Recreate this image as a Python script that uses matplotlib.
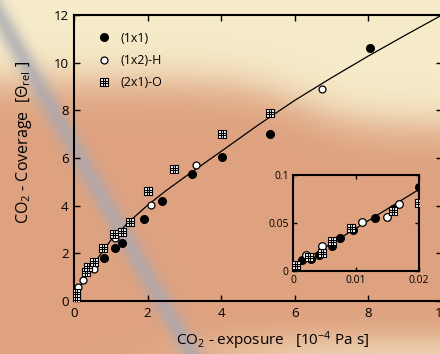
import numpy as np
import matplotlib
matplotlib.use("Agg")
import matplotlib.pyplot as plt
from matplotlib.path import Path

plt.rcParams['font.family'] = ['Open Sans', 'DejaVu Sans']
plt.rcParams['mathtext.fontset'] = 'custom'
plt.rcParams['mathtext.rm'] = 'Open Sans'
plt.rcParams['mathtext.it'] = 'Open Sans:italic'
plt.rcParams['mathtext.bf'] = 'Open Sans:bold'

# main plot data (exposure in 1e-4 Pa s, relative coverage)
x_1x1 = [0.02, 0.81, 1.11, 1.31, 1.91, 2.40, 3.21, 4.03, 5.33, 8.04]
y_1x1 = [0.08, 1.80, 2.22, 2.43, 3.43, 4.20, 5.31, 6.04, 7.02, 10.6]

x_1x2h = [0.03, 0.12, 0.25, 0.54, 1.11, 2.10, 3.31, 6.73]
y_1x2h = [0.20, 0.57, 0.87, 1.36, 2.63, 4.01, 5.71, 8.91]

x_2x1o = [0.05, 0.05, 0.06, 0.32, 0.39, 0.54, 0.80, 1.10, 1.30, 1.51, 2.01, 2.71, 4.03, 5.33]
y_2x1o = [0.12, 0.22, 0.32, 1.23, 1.41, 1.62, 2.21, 2.80, 2.90, 3.30, 4.60, 5.53, 7.00, 7.90]

# guide curve
x_fit = [0, 0.1, 0.3, 0.6, 1.0, 1.5, 2.0, 2.5, 3.0, 4.0, 5.0, 6.0, 7.0, 8.0, 9.0, 10.0]
y_fit = [0, 0.38, 1.00, 1.70, 2.55, 3.33, 4.02, 4.63, 5.19, 6.28, 7.38, 8.42, 9.37, 10.28, 11.15, 12.0]

# inset data (low exposure)
xi_1x1 = [0.00138, 0.00286, 0.00418, 0.00614, 0.00741, 0.00958, 0.0130, 0.0159, 0.0200]
yi_1x1 = [0.0115, 0.0128, 0.0163, 0.026, 0.0344, 0.0427, 0.0549, 0.0646, 0.0878]
xi_1x2h = [0.00201, 0.00466, 0.0109, 0.01487, 0.01688]
yi_1x2h = [0.017, 0.026, 0.051, 0.0566, 0.0701]
xi_2x1o = [0.00042, 0.00254, 0.00466, 0.00624, 0.0092, 0.0159, 0.0200]
yi_2x1o = [0.0059, 0.0149, 0.0184, 0.031, 0.0451, 0.0628, 0.0712]
xi_fit = [0, 0.02]
yi_fit = [0.004, 0.085]

# square marker with a grid inside
verts = [(-1, -1), (1, -1), (1, 1), (-1, 1), (-1, -1),
         (-1/3, -1), (-1/3, 1), (1/3, -1), (1/3, 1),
         (-1, -1/3), (1, -1/3), (-1, 1/3), (1, 1/3)]
codes = [Path.MOVETO, Path.LINETO, Path.LINETO, Path.LINETO, Path.CLOSEPOLY,
         Path.MOVETO, Path.LINETO, Path.MOVETO, Path.LINETO,
         Path.MOVETO, Path.LINETO, Path.MOVETO, Path.LINETO]
grid_sq = Path(verts, codes)

fig = plt.figure(figsize=(4.4, 3.54), dpi=100)

# photo-like background
H, W = 354, 440
yy, xx = np.mgrid[0:H, 0:W].astype(float)
cream = np.array([246, 236, 202]) / 255
salmon = np.array([222, 162, 128]) / 255
gray = np.array([168, 168, 178]) / 255
edge = 80 + 45 / (1 + np.exp(-(xx - 300) / 30))
w = 1 / (1 + np.exp(-(yy - edge) / 12))
w = w * (1 - 0.7 / (1 + np.exp(-(yy - 338) / 8)) / (1 + np.exp(-(xx - 230) / 40)))
img = cream * (1 - w[..., None]) + salmon * w[..., None]
d = xx - (-10 + 0.57 * yy)
g = np.exp(-(d / 12) ** 2) * 0.75
img = img * (1 - g[..., None]) + gray * g[..., None]
bg = fig.add_axes([0, 0, 1, 1], zorder=-1)
bg.imshow(img, aspect='auto')
bg.axis('off')

ax = fig.add_axes([74 / 440, 1 - 301 / 354, 368 / 440, 286 / 354])
ax.set_facecolor('none')
ax.plot(x_fit, y_fit, color='black', lw=0.9, zorder=2)
ax.plot(x_1x1, y_1x1, 'o', ms=5.5, color='black', label='(1x1)', zorder=3)
ax.plot(x_1x2h, y_1x2h, 'o', ms=5, mfc='white', mec='black', mew=0.9, label='(1x2)-H', zorder=3)
ax.plot(x_2x1o, y_2x1o, ls='none', marker=grid_sq, ms=5.5, mfc='white', mec='black', mew=0.8,
        label='(2x1)-O', zorder=3)
ax.set_xlim(0, 10)
ax.set_ylim(0, 12)
ax.set_xticks([0, 2, 4, 6, 8, 10])
ax.set_yticks([0, 2, 4, 6, 8, 10, 12])
ax.tick_params(direction='in', top=True, right=True, length=4, width=1, labelsize=9.5, pad=4)
for s in ax.spines.values():
    s.set_linewidth(1.5)
ax.set_xlabel('CO$_2$ - exposure   [10$^{-4}$ Pa s]', fontsize=11)
ax.set_ylabel('CO$_2$ - Coverage  [Θ$_{\\mathrm{rel}}$ ]', fontsize=11.5)
ax.xaxis.set_label_coords(0.539, -0.1)
ax.yaxis.set_label_coords(-0.108, 0.556)
ax.legend(loc='upper left', bbox_to_anchor=(0.051, 0.959), frameon=False, fontsize=9,
          handlelength=1, handletextpad=0.8, labelspacing=0.75, borderaxespad=0)

ins = fig.add_axes([293 / 440, 1 - 271 / 354, 126 / 440, 96 / 354])
ins.set_facecolor('none')
ins.plot(xi_fit, yi_fit, color='black', lw=0.9, zorder=2)
ins.plot(xi_1x1, yi_1x1, 'o', ms=5.5, color='black', zorder=3)
ins.plot(xi_1x2h, yi_1x2h, 'o', ms=5.5, mfc='white', mec='black', mew=0.9, zorder=3)
ins.plot(xi_2x1o, yi_2x1o, ls='none', marker=grid_sq, ms=5.5, mfc='white', mec='black', mew=0.8, zorder=3)
ins.set_xlim(0, 0.02)
ins.set_ylim(0, 0.1)
ins.set_xticks([0, 0.01, 0.02])
ins.set_xticklabels(['0', '0.01', '0.02'])
ins.set_yticks([0, 0.05, 0.1])
ins.set_yticklabels(['0', '0.05', '0.1'])
ins.tick_params(direction='in', top=True, right=True, length=3, width=1, labelsize=7.5, pad=3)
for s in ins.spines.values():
    s.set_linewidth(1.5)

fig.savefig('out.png', dpi=100)
